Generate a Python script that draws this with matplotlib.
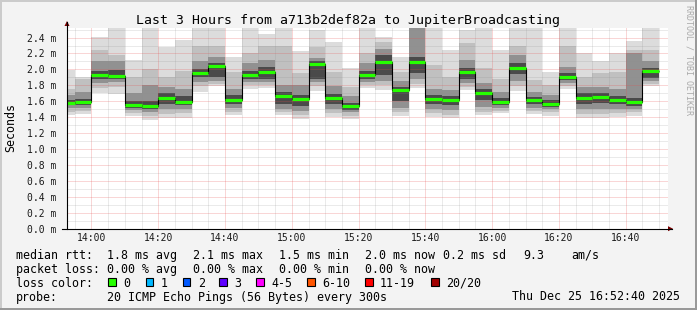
import matplotlib
matplotlib.use("Agg")
import matplotlib.pyplot as plt
from matplotlib.patches import Rectangle, Polygon
import numpy as np

MONO = "DejaVu Sans Mono"
plt.rcParams["font.family"] = [MONO]

# ---------------- data ----------------
title = "Last 3 Hours from a713b2def82a to JupiterBroadcasting"
window = ("13:52:40", "16:52:40")
bar_end_times = ["13:55", "14:00", "14:05", "14:10", "14:15", "14:20", "14:25", "14:30",
                 "14:35", "14:40", "14:45", "14:50", "14:55", "15:00", "15:05", "15:10",
                 "15:15", "15:20", "15:25", "15:30", "15:35", "15:40", "15:45", "15:50",
                 "15:55", "16:00", "16:05", "16:10", "16:15", "16:20", "16:25", "16:30",
                 "16:35", "16:40", "16:45", "16:50"]
step_minutes = 5

# median RTT per step (ms)
median = [1.58, 1.585, 1.93, 1.92, 1.55, 1.54, 1.64, 1.59, 1.95, 2.04, 1.62, 1.93,
          1.97, 1.665, 1.63, 2.07, 1.64, 1.535, 1.93, 2.09, 1.74, 2.095, 1.63, 1.61,
          1.97, 1.71, 1.59, 2.02, 1.61, 1.565, 1.91, 1.64, 1.655, 1.62, 1.59, 1.975]
# smoke bands (ms): outermost pings, then progressively inner ping ranks
ping_min = [1.43, 1.44, 1.71, 1.69, 1.41, 1.37, 1.39, 1.39, 1.72, 1.79, 1.43, 1.76,
            1.77, 1.43, 1.38, 1.73, 1.40, 1.38, 1.77, 1.74, 1.41, 1.77, 1.40, 1.385,
            1.74, 1.43, 1.45, 1.73, 1.44, 1.42, 1.75, 1.39, 1.39, 1.40, 1.42, 1.79]
band2_lo = [1.47, 1.48, 1.77, 1.78, 1.45, 1.42, 1.44, 1.45, 1.79, 1.82, 1.47, 1.80,
            1.80, 1.46, 1.43, 1.79, 1.45, 1.42, 1.80, 1.80, 1.46, 1.82, 1.45, 1.43,
            1.78, 1.47, 1.48, 1.79, 1.48, 1.46, 1.79, 1.44, 1.44, 1.45, 1.46, 1.82]
band3_lo = [1.51, 1.52, 1.83, 1.84, 1.49, 1.46, 1.50, 1.50, 1.84, 1.86, 1.51, 1.84,
            1.84, 1.50, 1.48, 1.84, 1.50, 1.46, 1.84, 1.86, 1.52, 1.88, 1.50, 1.49,
            1.83, 1.53, 1.52, 1.86, 1.52, 1.50, 1.83, 1.50, 1.50, 1.50, 1.50, 1.85]
core_lo = [1.55, 1.555, 1.88, 1.88, 1.52, 1.50, 1.57, 1.55, 1.90, 1.90, 1.56, 1.88,
           1.88, 1.56, 1.54, 1.88, 1.57, 1.49, 1.88, 1.93, 1.60, 1.96, 1.56, 1.55,
           1.88, 1.62, 1.555, 1.94, 1.56, 1.53, 1.87, 1.57, 1.58, 1.57, 1.54, 1.89]
core_hi = [1.62, 1.63, 1.98, 1.99, 1.60, 1.60, 1.70, 1.66, 2.00, 2.08, 1.68, 1.98,
           2.03, 1.72, 1.68, 2.10, 1.69, 1.58, 1.98, 2.18, 1.78, 2.16, 1.68, 1.66,
           2.02, 1.76, 1.64, 2.08, 1.65, 1.61, 1.96, 1.70, 1.70, 1.67, 1.64, 2.02]
band3_hi = [1.68, 1.72, 2.10, 2.10, 1.70, 1.80, 1.78, 1.76, 2.10, 2.15, 1.76, 2.08,
            2.12, 1.80, 1.80, 2.14, 1.79, 1.66, 2.08, 2.26, 1.85, 2.60, 1.76, 1.74,
            2.12, 1.83, 1.72, 2.18, 1.72, 1.68, 2.03, 1.78, 1.78, 1.76, 2.20, 2.10]
band2_hi = [1.76, 1.88, 2.25, 2.18, 1.90, 2.00, 1.91, 1.98, 2.30, 2.30, 1.97, 2.20,
            2.30, 2.30, 1.96, 2.28, 1.97, 1.78, 2.20, 2.34, 1.97, 2.60, 2.05, 1.90,
            2.33, 2.02, 1.88, 2.30, 1.87, 1.80, 2.30, 1.90, 1.95, 1.97, 2.25, 2.24]
ping_max = [1.99, 1.90, 2.41, 2.60, 2.12, 2.60, 2.28, 2.37, 2.60, 2.60, 2.15, 2.60,
            2.45, 2.60, 2.23, 2.50, 2.35, 2.02, 2.60, 2.41, 2.16, 2.60, 2.60, 2.25,
            2.49, 2.60, 2.25, 2.60, 2.60, 1.97, 2.60, 2.21, 2.11, 2.20, 2.36, 2.60]

x_tick_labels = ["14:00", "14:20", "14:40", "15:00", "15:20", "15:40", "16:00", "16:20", "16:40"]
y_ticks = [0.0, 0.2, 0.4, 0.6, 0.8, 1.0, 1.2, 1.4, 1.6, 1.8, 2.0, 2.2, 2.4]
y_tick_labels = ["%.1f m" % v for v in y_ticks]
y_label = "Seconds"
y_top = 2.52

rtt_stats = ["1.8 ms avg", "2.1 ms max", "1.5 ms min", "2.0 ms now", "0.2 ms sd", "9.3", "am/s"]
loss_stats = ["0.00 % avg", "0.00 % max", "0.00 % min", "0.00 % now"]
loss_labels = ["0", "1", "2", "3", "4-5", "6-10", "11-19", "20/20"]
loss_colors = ["#26ff00", "#00b8ff", "#0059ff", "#5e00ff", "#ff00ff", "#ff5500", "#ff0000", "#a00000"]
probe_text = "20 ICMP Echo Pings (56 Bytes) every 300s"
stamp = "Thu Dec 25 16:52:40 2025"
credit = "RRDTOOL / TOBI OETIKER"


def to_min(s):
    parts = [int(p) for p in s.split(":")]
    while len(parts) < 3:
        parts.append(0)
    return (parts[0] - 14) * 60 + parts[1] + parts[2] / 60.0


# ---------------- figure ----------------
W, H = 697, 310
fig = plt.figure(figsize=(W / 100, H / 100), dpi=100, facecolor="#f3f3f3")

L, R, T, B = 67, 668, 28, 228.7
ax = fig.add_axes([L / W, (H - B) / H, (R - L) / W, (B - T) / H])
ax.set_facecolor("white")

x0, x1 = to_min(window[0]), to_min(window[1])
ends = np.array([to_min(t) for t in bar_end_times])
starts = np.maximum(ends - step_minutes, x0)
widths = ends - starts

levels = [(ping_min, ping_max, "#dcdcdc"),
          (band2_lo, band2_hi, "#c0c0c0"),
          (band3_lo, band3_hi, "#919191"),
          (core_lo, core_hi, "#4a4a4a")]
for lo, hi, col in levels:
    lo = np.array(lo)
    hi = np.array(hi)
    ax.bar(starts, hi - lo, bottom=lo, width=widths, align="edge", color=col,
           linewidth=0, zorder=1, antialiased=False)

# grid
minor_col = (0.55, 0.55, 0.55, 0.35)
major_col = (0.90, 0.30, 0.30, 0.45)
dot = (0, (1, 1))
for m in np.arange(-5, x1, 5):
    is_major = (m % 20 == 0)
    ax.axvline(m, color=major_col if is_major else minor_col, lw=0.72, ls=dot, zorder=2)
for v in np.arange(0.1, y_top, 0.1):
    is_major = (round(v * 10) % 2 == 0)
    ax.axhline(v, color=major_col if is_major else minor_col, lw=0.72, ls=dot, zorder=2)

# median step line and loss-coloured median markers
edges = np.concatenate([[starts[0]], ends])
ax.stairs(median, edges, baseline=None, color="black", lw=0.8, zorder=3)
ax.hlines(median, starts, ends, colors=loss_colors[0], lw=2.3, zorder=4)

ax.set_xlim(x0, x1)
ax.set_ylim(0, y_top)
ax.set_xticks([to_min(t) for t in x_tick_labels])
ax.set_xticklabels(x_tick_labels)
ax.set_yticks(y_ticks)
ax.set_yticklabels(y_tick_labels)
ax.tick_params(axis="both", length=0, labelsize=7, colors="#1a1a1a")
ax.tick_params(axis="y", pad=7.3)
ax.tick_params(axis="x", pad=3.2)
for s in ax.spines.values():
    s.set_visible(False)

# ---------------- overlay (pixel coordinates) ----------------
ov = fig.add_axes([0, 0, 1, 1], zorder=10)
ov.set_xlim(0, W)
ov.set_ylim(H, 0)
ov.axis("off")
ov.patch.set_alpha(0)

# frame shading
ov.add_patch(Rectangle((0, 0), W, 2, color="#cbcbcb", lw=0))
ov.add_patch(Rectangle((0, 0), 2, H, color="#cbcbcb", lw=0))
ov.add_patch(Rectangle((0, H - 2), W, 2, color="#999999", lw=0))
ov.add_patch(Rectangle((W - 2, 0), 2, H, color="#999999", lw=0))

# axes with arrows
ov.plot([L, L], [B + 0.5, 22], color="black", lw=0.8)
ov.plot([62, 672], [B, B], color="black", lw=0.8)
ov.add_patch(Polygon([[64.5, 26], [69.5, 26], [67, 21]], closed=True, color="#7a0000", lw=0))
ov.add_patch(Polygon([[668, 226.2], [668, 231.2], [673, 228.7]], closed=True, color="#7a0000", lw=0))

ov.text(347.5, 24, title, ha="center", va="baseline", fontsize=9.5, color="black")
ov.text(10.5, 128, y_label, rotation=90, ha="center", va="center", fontsize=8.4, color="black")
ov.text(688.5, 5, credit, rotation=270, ha="center", va="top", fontsize=6, color="#aaaaaa")

fs = 8.4
base = [259, 273, 287, 300.5]
ov.text(16, base[0], "median rtt:", fontsize=fs, va="baseline")
for x, s in zip([107.3, 193.3, 279.3, 365, 443.3, 523.3, 571.7], rtt_stats):
    ov.text(x, base[0], s, fontsize=fs, va="baseline")
ov.text(16, base[1], "packet loss:", fontsize=fs, va="baseline")
for x, s in zip([107.3, 193.3, 279.3, 365], loss_stats):
    ov.text(x, base[1], s, fontsize=fs, va="baseline")
ov.text(16, base[2], "loss color:", fontsize=fs, va="baseline")
for x, s, c in zip([108.3, 145.7, 182.7, 219.3, 256, 307.3, 365, 431], loss_labels, loss_colors):
    ov.add_patch(Rectangle((x, 278), 7.5, 8, facecolor=c, edgecolor="black", lw=0.8))
    ov.text(x + 15, base[2], s, fontsize=fs, va="baseline")
ov.text(16, base[3], "probe:", fontsize=fs, va="baseline")
ov.text(107.3, base[3], probe_text, fontsize=fs, va="baseline")
ov.text(680.5, base[3], stamp, fontsize=fs, va="baseline", ha="right")

fig.savefig("out.png", dpi=100, facecolor=fig.get_facecolor())
